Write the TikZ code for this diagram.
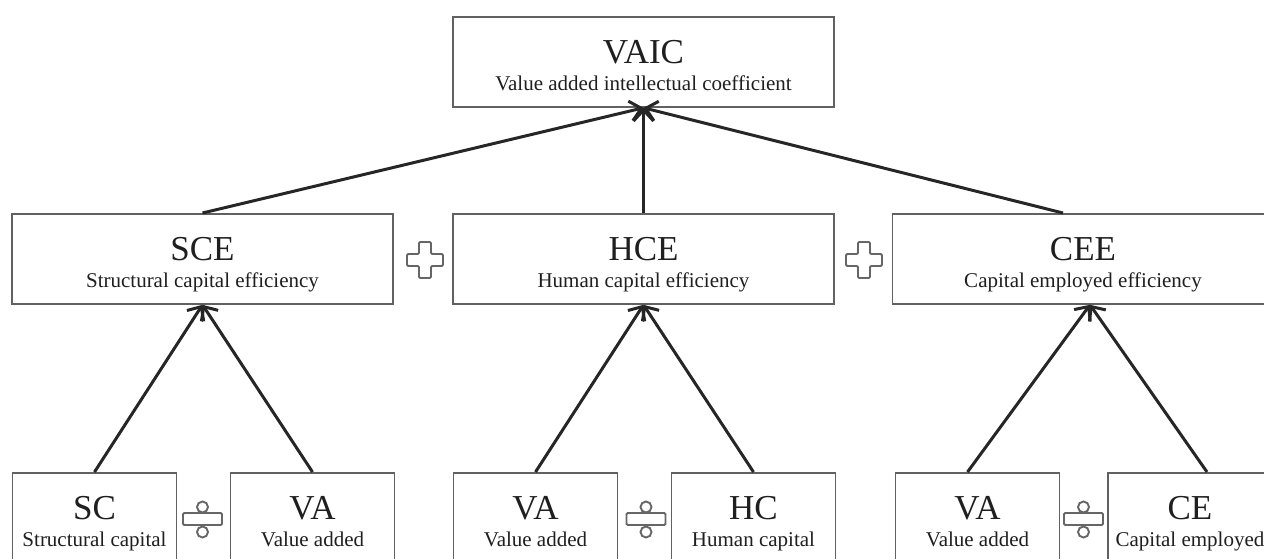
\documentclass[tikz,border=0pt]{standalone}
\usepackage{fontspec}
\setmainfont{Liberation Serif}
\usetikzlibrary{arrows.meta}

\newcommand{\titlefont}{\fontsize{35}{27}\selectfont}
\newcommand{\subfont}{\fontsize{21}{27}\selectfont}

\begin{document}
\begin{tikzpicture}[
  x=1pt, y=-1pt,
  box/.style={draw=black!62, line width=1.8pt, fill=white, align=center,
    inner sep=0pt, text height=74pt, text depth=16pt, font=\subfont,
    text=black!88, anchor=north},
  bigbox/.style={box, minimum width=381pt},
  smallbox/.style={box, minimum width=164pt},
  arr/.style={-{Straight Barb[length=11pt, width=20pt]}, line width=3pt, draw=black!85},
  sign/.style={draw=black!60, line width=1.9pt, fill=white, rounded corners=1.2pt}
]
\useasboundingbox (0,0) rectangle (1264,559);
\clip (0,0) rectangle (1264,559);

% top level
\node[bigbox] (vaic) at (643.5,16) {{\titlefont VAIC}\\Value added intellectual coefficient};

% components
\node[bigbox] (sce) at (202.5,213) {{\titlefont SCE}\\Structural capital efficiency};
\node[bigbox] (hce) at (643.5,213) {{\titlefont HCE}\\Human capital efficiency};
\node[bigbox] (cee) at (1083,213) {{\titlefont CEE}\\Capital employed efficiency};

% ratios
\node[smallbox] (sc) at (94.5,472) {{\titlefont SC}\\Structural capital};
\node[smallbox] (vaa) at (312.5,472) {{\titlefont VA}\\Value added};
\node[smallbox] (vab) at (535.5,472) {{\titlefont VA}\\Value added};
\node[smallbox] (hc) at (753.5,472) {{\titlefont HC}\\Human capital};
\node[smallbox] (vac) at (977.5,472) {{\titlefont VA}\\Value added};
\node[smallbox] (ce) at (1190,472) {{\titlefont CE}\\Capital employed};

% arrows
\draw[arr] (sce.north) -- (vaic.south);
\draw[arr] (hce.north) -- (vaic.south);
\draw[arr] ([xshift=-20pt]cee.north) -- (vaic.south);

\draw[arr] (sc.north) -- (sce.south);
\draw[arr] (vaa.north) -- (sce.south);
\draw[arr] (vab.north) -- (hce.south);
\draw[arr] (hc.north) -- (hce.south);
\draw[arr] ([xshift=-10pt]vac.north) -- ([xshift=7pt]cee.south);
\draw[arr] ([xshift=17pt]ce.north) -- ([xshift=7pt]cee.south);

% plus signs
\draw[sign] (425,260) ++(-6,-18) -- ++(12,0) -- ++(0,12) -- ++(12,0) -- ++(0,12) -- ++(-12,0)
  -- ++(0,12) -- ++(-12,0) -- ++(0,-12) -- ++(-12,0) -- ++(0,-12) -- ++(12,0) -- cycle;
\draw[sign] (864,260) ++(-6,-18) -- ++(12,0) -- ++(0,12) -- ++(12,0) -- ++(0,12) -- ++(-12,0)
  -- ++(0,12) -- ++(-12,0) -- ++(0,-12) -- ++(-12,0) -- ++(0,-12) -- ++(12,0) -- cycle;

% divide signs
\draw[sign] (202.5,519) ++(-19.5,-6) rectangle ++(39,12);
\draw[sign] (202.5,507) circle (5.5);
\draw[sign] (202.5,532) circle (5.5);
\draw[sign] (646,519) ++(-19.5,-6) rectangle ++(39,12);
\draw[sign] (646,507) circle (5.5);
\draw[sign] (646,532) circle (5.5);
\draw[sign] (1083.5,519) ++(-19.5,-6) rectangle ++(39,12);
\draw[sign] (1083.5,507) circle (5.5);
\draw[sign] (1083.5,532) circle (5.5);

\end{tikzpicture}
\end{document}
